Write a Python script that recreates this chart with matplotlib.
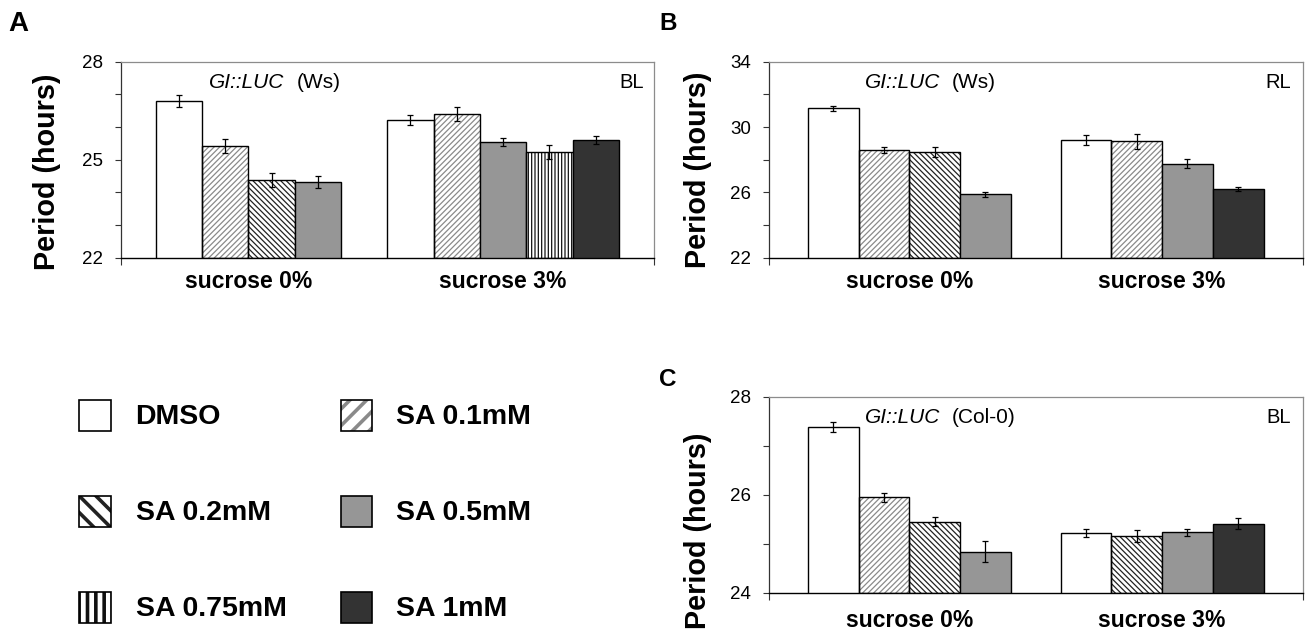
import matplotlib
matplotlib.use("Agg")
import matplotlib.pyplot as plt
from matplotlib.patches import Rectangle
import numpy as np

plt.rcParams['font.family'] = ['Liberation Sans', 'DejaVu Sans']

# category labels
groups = ["sucrose 0%", "sucrose 3%"]

# panel A: GI::LUC (Ws), blue light
a_series_0 = ["DMSO", "SA 0.1mM", "SA 0.2mM", "SA 0.5mM"]
a_means_0 = [26.80, 25.42, 24.38, 24.32]
a_err_0 = [0.18, 0.20, 0.21, 0.19]
a_series_3 = ["DMSO", "SA 0.1mM", "SA 0.5mM", "SA 0.75mM", "SA 1mM"]
a_means_3 = [26.22, 26.40, 25.54, 25.24, 25.60]
a_err_3 = [0.15, 0.21, 0.12, 0.22, 0.13]

# panel B: GI::LUC (Ws), red light
b_series_0 = ["DMSO", "SA 0.1mM", "SA 0.2mM", "SA 0.5mM"]
b_means_0 = [31.14, 28.61, 28.49, 25.88]
b_err_0 = [0.15, 0.18, 0.31, 0.17]
b_series_3 = ["DMSO", "SA 0.1mM", "SA 0.5mM", "SA 1mM"]
b_means_3 = [29.19, 29.12, 27.76, 26.19]
b_err_3 = [0.31, 0.44, 0.29, 0.12]

# panel C: GI::LUC (Col-0), blue light
c_series_0 = ["DMSO", "SA 0.1mM", "SA 0.2mM", "SA 0.5mM"]
c_means_0 = [27.38, 25.95, 25.45, 24.84]
c_err_0 = [0.11, 0.09, 0.09, 0.22]
c_series_3 = ["DMSO", "SA 0.2mM", "SA 0.5mM", "SA 1mM"]
c_means_3 = [25.22, 25.16, 25.23, 25.41]
c_err_3 = [0.08, 0.12, 0.07, 0.11]

legend_order = ["DMSO", "SA 0.1mM", "SA 0.2mM", "SA 0.5mM", "SA 0.75mM", "SA 1mM"]

# fill colour, hatch for bars, hatch colour, hatch for legend boxes
styles = {
    "DMSO":      ("white",   None,          None,      None),
    "SA 0.1mM":  ("white",   "//////",      "#8a8a8a", "//"),
    "SA 0.2mM":  ("white",   "\\\\\\\\\\\\", "#222222", "\\\\"),
    "SA 0.5mM":  ("#969696", None,          None,      None),
    "SA 0.75mM": ("white",   "|||||",       "#111111", "||"),
    "SA 1mM":    ("#333333", None,          None,      None),
}

W, H = 1309, 630
fig = plt.figure(figsize=(W / 100, H / 100), dpi=100)


def draw_bars(ax, series, means, errs, start, width):
    base = ax.get_ylim()[0]
    x = start + width * (np.arange(len(series)) + 0.5)
    for xi, s, m in zip(x, series, means):
        fc, hatch, hc, _ = styles[s]
        if hatch:
            plt.rcParams['hatch.linewidth'] = 0.9
            ax.bar(xi, m - base, width, bottom=base, color=fc, edgecolor=hc,
                   hatch=hatch, linewidth=0, zorder=2)
            ax.bar(xi, m - base, width, bottom=base, fill=False,
                   edgecolor="black", linewidth=1.0, zorder=3)
        else:
            ax.bar(xi, m - base, width, bottom=base, color=fc,
                   edgecolor="black", linewidth=1.0, zorder=3)
    ax.errorbar(x, means, yerr=errs, fmt="none", ecolor="black",
                elinewidth=0.9, capsize=2.2, capthick=0.9, zorder=4)
    return x.mean()


def panel(rect, ylim, major, minor, data, layout, strain, light, text_x, xpad):
    ax = fig.add_axes(rect)
    ax.set_xlim(0, 2)
    ax.set_ylim(*ylim)
    width, s0, s1 = layout
    c0 = draw_bars(ax, *data[0], s0, width)
    c1 = draw_bars(ax, *data[1], s1, width)

    ax.set_yticks(major)
    ax.set_yticks(minor, minor=True)
    ax.tick_params(axis="y", which="both", direction="out", length=4,
                   width=0.8, color="#333333", labelsize=13.5, pad=9)
    ax.set_xticks([0, 2])
    ax.set_xticklabels([])
    ax.tick_params(axis="x", which="major", direction="out", length=5,
                   width=0.8, color="#333333")
    ax.set_xticks([c0, c1], minor=True)
    ax.set_xticklabels(groups, minor=True, fontsize=16.5, fontweight="bold")
    ax.tick_params(axis="x", which="minor", length=0, pad=xpad)

    for side in ("top", "right"):
        ax.spines[side].set_color("#8c8c8c")
        ax.spines[side].set_linewidth(0.9)
    ax.spines["left"].set_color("#333333")
    ax.spines["bottom"].set_color("black")
    ax.spines["left"].set_linewidth(0.9)
    ax.spines["bottom"].set_linewidth(1.0)

    gx, sx, lx = text_x
    ax.text(gx, 0.895, "GI::LUC", transform=ax.transAxes, style="italic",
            fontsize=15, ha="left", va="center")
    ax.text(sx, 0.895, strain, transform=ax.transAxes, fontsize=15,
            ha="left", va="center")
    ax.text(lx, 0.895, light, transform=ax.transAxes, fontsize=14.5,
            ha="right", va="center")
    return ax


def fx(px):
    return px / W


def fy(py):
    return 1 - py / H


axA = panel([fx(120.8), fy(257.7), 532.8 / W, 196 / H], (22, 28),
            [22, 25, 28], np.arange(22, 29, 1),
            [(a_series_0, a_means_0, a_err_0), (a_series_3, a_means_3, a_err_3)],
            (0.174, 0.131, 1.0), "(Ws)", "BL", (0.165, 0.331, 0.981), 9)
axB = panel([fx(768.9), fy(257.7), 533.9 / W, 196 / H], (22, 34),
            [22, 26, 30, 34], np.arange(22, 35, 2),
            [(b_series_0, b_means_0, b_err_0), (b_series_3, b_means_3, b_err_3)],
            (0.190, 0.146, 1.093), "(Ws)", "RL", (0.180, 0.343, 0.977), 9)
axC = panel([fx(768.9), fy(592.7), 533.9 / W, 196 / H], (24, 28),
            [24, 26, 28], np.arange(24, 29, 1),
            [(c_series_0, c_means_0, c_err_0), (c_series_3, c_means_3, c_err_3)],
            (0.190, 0.146, 1.093), "(Col-0)", "BL", (0.180, 0.343, 0.977), 11.5)

# y axis titles
for (px, py) in [(47.5, 171.5), (698, 169.5), (698, 531)]:
    fig.text(fx(px), fy(py), "Period (hours)", rotation=90, fontsize=20.7,
             fontweight="bold", ha="center", va="center")

# panel letters
fig.text(fx(18.3), fy(24), "A", fontsize=20, fontweight="bold", ha="center", va="center")
fig.text(fx(668), fy(24), "B", fontsize=17.5, fontweight="bold", ha="center", va="center")
fig.text(fx(668), fy(380), "C", fontsize=17.5, fontweight="bold", ha="center", va="center")

# legend drawn by hand in pixel space
lax = fig.add_axes([0, 0, 1, 1])
lax.set_xlim(0, W)
lax.set_ylim(H, 0)
lax.axis("off")
plt.rcParams['hatch.linewidth'] = 2.6
box_x = [79, 340.7]
text_x = [135.6, 396.4]
row_y = [415.5, 511.3, 607.5]
for i, name in enumerate(legend_order):
    col, row = i % 2, i // 2
    fc, _, hc, lhatch = styles[name]
    y0 = row_y[row] - 15.5
    if lhatch:
        lax.add_patch(Rectangle((box_x[col], y0), 31.5, 31, facecolor=fc,
                                edgecolor=hc, hatch=lhatch, linewidth=0))
        lax.add_patch(Rectangle((box_x[col], y0), 31.5, 31, fill=False,
                                edgecolor="black", linewidth=1.2))
    else:
        lax.add_patch(Rectangle((box_x[col], y0), 31.5, 31, facecolor=fc,
                                edgecolor="black", linewidth=1.2))
    lax.text(text_x[col], row_y[row] + 2, name, fontsize=20.5,
             fontweight="bold", ha="left", va="center")

fig.savefig("out.png", dpi=100)
